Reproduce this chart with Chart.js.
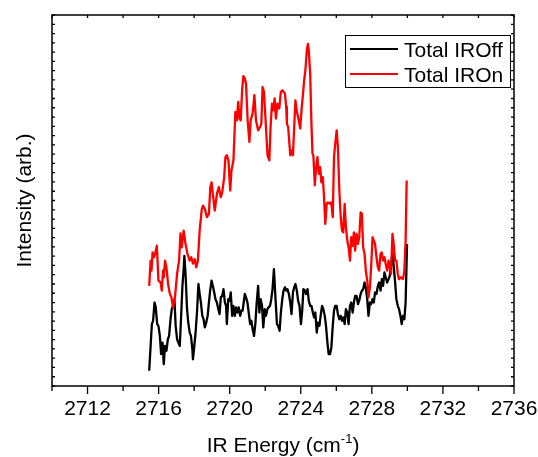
<!DOCTYPE html>
<html>
<head>
<meta charset="utf-8">
<script src="https://cdn.jsdelivr.net/npm/chart.js@4/dist/chart.umd.min.js"></script>
<style>
  html, body { margin: 0; padding: 0; background: #fff; }
  #wrap { width: 538px; height: 457px; position: relative; }
</style>
</head>
<body>
<div id="wrap"><canvas id="c" width="538" height="457"></canvas></div>
<script>
// IR-on spectrum: energy (cm^-1) and intensity (arb.)
const onEnergy = [2715.47,2715.55,2715.60,2715.66,2715.73,2715.80,2715.90,2715.99,2716.11,2716.18,
  2716.25,2716.29,2716.36,2716.44,2716.53,2716.63,2716.72,2716.81,2716.92,2717.04,
  2717.15,2717.23,2717.30,2717.41,2717.51,2717.62,2717.75,2717.84,2717.93,2718.03,
  2718.12,2718.21,2718.31,2718.42,2718.49,2718.60,2718.72,2718.83,2718.91,2718.98,
  2719.05,2719.16,2719.28,2719.39,2719.50,2719.58,2719.69,2719.76,2719.84,2719.93,
  2720.03,2720.10,2720.21,2720.29,2720.32,2720.40,2720.48,2720.55,2720.62,2720.70,
  2720.77,2720.85,2720.92,2721.01,2721.11,2721.18,2721.29,2721.39,2721.48,2721.60,
  2721.71,2721.78,2721.85,2721.93,2722.04,2722.13,2722.23,2722.30,2722.38,2722.45,
  2722.53,2722.60,2722.69,2722.79,2722.88,2722.97,2723.11,2723.18,2723.22,2723.29,
  2723.41,2723.48,2723.56,2723.63,2723.70,2723.78,2723.85,2723.97,2724.04,2724.12,
  2724.19,2724.26,2724.34,2724.40,2724.45,2724.53,2724.60,2724.66,2724.71,2724.79,
  2724.86,2724.94,2725.01,2725.09,2725.16,2725.24,2725.31,2725.38,2725.46,2725.53,
  2725.65,2725.72,2725.80,2725.87,2725.94,2726.02,2726.09,2726.17,2726.25,2726.32,
  2726.39,2726.47,2726.54,2726.62,2726.69,2726.77,2726.84,2726.92,2726.99,2727.06,
  2727.14,2727.22,2727.29,2727.37,2727.44,2727.51,2727.59,2727.66,2727.74,2727.81,
  2727.89,2727.96,2728.04,2728.11,2728.18,2728.26,2728.34,2728.41,2728.49,2728.56,
  2728.63,2728.71,2728.78,2728.86,2728.94,2729.01,2729.08,2729.16,2729.23,2729.31,
  2729.38,2729.46,2729.53,2729.62,2729.75,2729.83,2729.90,2729.96];
const onIntensity = [27.0,33.8,31.1,36.0,34.7,35.6,37.8,28.4,27.9,25.7,
  31.1,29.3,33.8,32.0,27.6,24.9,23.9,21.2,23.9,30.3,
  33.8,41.1,37.4,41.9,38.4,35.7,33.8,34.7,33.0,34.2,
  32.0,33.8,41.9,47.3,48.6,47.8,45.5,46.4,53.6,54.9,
  51.8,47.3,51.8,53.6,50.9,52.2,56.3,61.7,62.2,60.8,
  52.7,58.1,60.8,70.3,73.9,71.6,76.6,72.1,71.6,79.7,
  83.5,82.9,81.5,71.6,65.8,71.6,73.4,78.4,71.6,68.9,
  69.8,70.7,80.6,79.3,69.8,62.2,60.8,69.8,76.1,74.3,
  77.5,72.1,76.1,74.8,79.3,79.7,78.8,75.2,70.7,69.8,
  62.2,63.5,62.2,69.8,77.0,73.9,72.5,69.4,74.3,78.4,
  82.4,85.1,90.5,92.2,90.5,84.2,70.7,62.6,62.2,54.1,
  58.6,61.7,57.2,59.0,54.9,56.3,50.9,43.7,49.1,49.5,
  49.1,49.5,45.5,61.7,65.3,68.9,64.4,52.7,45.5,41.9,
  41.4,49.1,42.8,39.2,37.4,33.8,40.1,37.8,41.4,36.5,
  41.0,38.3,40.1,46.8,46.4,37.4,35.6,31.1,28.4,23.9,
  26.6,32.0,40.1,39.2,38.3,34.7,32.0,31.1,35.6,36.0,
  33.8,34.7,32.9,31.1,33.8,32.0,30.2,41.0,38.3,33.8,
  33.8,30.2,28.8,29.3,28.8,31.1,39.2,55.4];

// IR-off spectrum
const offEnergy = [2715.47,2715.55,2715.62,2715.69,2715.77,2715.84,2715.92,2715.99,2716.07,2716.14,
  2716.22,2716.29,2716.36,2716.44,2716.52,2716.59,2716.67,2716.74,2716.81,2716.89,
  2716.96,2717.04,2717.11,2717.19,2717.26,2717.34,2717.41,2717.45,2717.52,2717.60,
  2717.67,2717.75,2717.82,2717.90,2717.93,2718.01,2718.08,2718.16,2718.24,2718.31,
  2718.38,2718.46,2718.53,2718.60,2718.68,2718.76,2718.83,2718.91,2718.98,2719.05,
  2719.13,2719.20,2719.28,2719.36,2719.43,2719.50,2719.58,2719.65,2719.73,2719.80,
  2719.84,2719.92,2719.99,2720.06,2720.14,2720.21,2720.29,2720.36,2720.44,2720.51,
  2720.59,2720.66,2720.73,2720.85,2720.92,2721.00,2721.07,2721.15,2721.22,2721.29,
  2721.37,2721.45,2721.52,2721.60,2721.67,2721.74,2721.82,2721.89,2721.97,2722.04,
  2722.12,2722.19,2722.27,2722.34,2722.41,2722.49,2722.57,2722.66,2722.73,2722.81,
  2722.88,2722.96,2723.03,2723.11,2723.18,2723.25,2723.33,2723.41,2723.48,2723.56,
  2723.63,2723.70,2723.78,2723.85,2723.93,2724.01,2724.08,2724.15,2724.23,2724.30,
  2724.38,2724.45,2724.53,2724.60,2724.68,2724.75,2724.82,2724.90,2724.97,2725.05,
  2725.13,2725.20,2725.27,2725.35,2725.42,2725.50,2725.57,2725.65,2725.72,2725.80,
  2725.87,2725.94,2726.02,2726.09,2726.17,2726.25,2726.32,2726.39,2726.47,2726.54,
  2726.62,2726.69,2726.77,2726.84,2726.92,2726.99,2727.06,2727.14,2727.22,2727.29,
  2727.37,2727.44,2727.51,2727.59,2727.66,2727.74,2727.81,2727.89,2727.96,2728.04,
  2728.11,2728.18,2728.26,2728.34,2728.41,2728.49,2728.56,2728.63,2728.71,2728.78,
  2728.86,2728.94,2729.01,2729.08,2729.16,2729.23,2729.31,2729.38,2729.46,2729.53,
  2729.61,2729.68,2729.75,2729.83,2729.90,2729.98];
const offIntensity = [4.1,10.8,16.7,17.6,22.5,21.2,16.7,16.2,13.5,8.6,
  11.7,5.9,10.8,9.5,12.6,13.5,18.0,20.7,21.6,23.4,
  16.2,12.6,11.7,10.8,18.0,27.0,31.5,35.1,29.7,20.7,
  17.1,14.4,13.5,9.9,7.2,10.8,14.4,19.8,27.5,24.8,
  22.5,18.9,18.0,15.8,17.1,18.9,22.5,26.1,28.4,27.0,
  25.2,23.4,22.5,20.7,19.4,23.9,24.3,26.1,22.5,21.6,
  16.7,23.4,23.0,25.2,18.9,21.6,18.9,21.2,19.8,21.2,
  18.9,20.3,20.3,24.8,23.9,22.5,19.8,16.7,17.6,15.3,
  13.5,17.1,22.5,27.0,19.8,23.4,21.6,15.8,20.7,18.9,
  20.7,21.2,21.6,23.4,26.1,31.5,24.3,16.7,16.2,14.9,
  19.8,23.4,25.7,26.6,25.7,26.1,24.8,22.5,19.4,25.2,
  26.6,27.5,25.7,23.0,21.6,16.7,20.3,26.1,25.7,24.8,
  26.1,23.0,21.6,21.6,19.8,18.5,19.8,14.4,17.1,16.2,
  19.4,21.6,20.7,18.9,16.2,11.7,8.6,8.6,10.4,16.2,
  20.3,21.6,21.6,19.4,18.0,18.9,17.6,18.5,16.7,20.7,
  19.8,16.7,21.6,22.5,19.8,22.5,24.3,24.3,22.1,23.0,
  24.8,25.7,26.1,27.9,26.6,23.4,18.9,22.5,22.1,23.4,
  22.5,25.2,24.8,27.0,27.9,25.7,28.8,27.0,30.6,29.3,
  27.9,28.8,29.7,32.4,36.0,32.4,27.9,23.4,21.6,20.7,
  18.9,16.7,18.9,18.0,22.5,38.3];

// Axis ticks
const xTickLabels = [2712, 2716, 2720, 2724, 2728, 2732, 2736];
const xTickMarks = [2710, 2712, 2714, 2716, 2718, 2720, 2722, 2724, 2726, 2728, 2730, 2732, 2734, 2736];
const seriesNames = ['Total IROff', 'Total IROn'];
const seriesColors = ['#000000', '#ff0000'];

const FONT = 'Arial, "Liberation Sans", sans-serif';

const toPoints = (xs, ys) => xs.map((x, i) => ({ x: x, y: ys[i] }));

// Frame, ticks, labels, titles and legend drawn on top of the plot
const framePlugin = {
  id: 'frame',
  afterDraw(chart) {
    const { ctx, chartArea: a, scales: { x, y } } = chart;
    ctx.save();
    ctx.strokeStyle = '#000';
    ctx.fillStyle = '#000';

    // x ticks: outward on the bottom, inward on the top
    ctx.lineWidth = 1.3;
    xTickMarks.forEach(v => {
      const px = x.getPixelForValue(v);
      const major = xTickLabels.includes(v);
      ctx.beginPath();
      ctx.moveTo(px, a.bottom);
      ctx.lineTo(px, a.bottom + (major ? 8 : 5));
      ctx.moveTo(px, a.top);
      ctx.lineTo(px, a.top + 3);
      ctx.stroke();
    });

    // y ticks: inward on both sides
    for (let v = 0; v <= 100; v += 2.5) {
      const py = y.getPixelForValue(v);
      ctx.beginPath();
      ctx.moveTo(a.left, py);
      ctx.lineTo(a.left + 3, py);
      ctx.moveTo(a.right, py);
      ctx.lineTo(a.right - 3, py);
      ctx.stroke();
    }

    // frame
    ctx.lineWidth = 1.5;
    ctx.strokeRect(a.left, a.top, a.right - a.left, a.bottom - a.top);

    // x tick labels
    ctx.font = '21px ' + FONT;
    ctx.textAlign = 'center';
    ctx.textBaseline = 'alphabetic';
    xTickLabels.forEach(v => {
      ctx.fillText(String(v), x.getPixelForValue(v), 415);
    });

    // x title with superscript
    const main1 = 'IR Energy (cm', sup = '-1', main2 = ')';
    ctx.font = '21px ' + FONT;
    const w1 = ctx.measureText(main1).width;
    const w3 = ctx.measureText(main2).width;
    ctx.font = '13px ' + FONT;
    const w2 = ctx.measureText(sup).width;
    const total = w1 + w2 + w3;
    let sx = (a.left + a.right) / 2 - total / 2;
    const base = 452;
    ctx.textAlign = 'left';
    ctx.font = '21px ' + FONT;
    ctx.fillText(main1, sx, base);
    ctx.font = '13px ' + FONT;
    ctx.fillText(sup, sx + w1, base - 9);
    ctx.font = '21px ' + FONT;
    ctx.fillText(main2, sx + w1 + w2, base);

    // y title
    ctx.save();
    ctx.translate(31, (a.top + a.bottom) / 2);
    ctx.rotate(-Math.PI / 2);
    ctx.textAlign = 'center';
    ctx.textBaseline = 'alphabetic';
    ctx.font = '21px ' + FONT;
    ctx.fillText('Intensity (arb.)', 0, 0);
    ctx.restore();

    // legend
    ctx.lineWidth = 1;
    ctx.strokeRect(345.5, 35.5, 165, 52);
    ctx.font = '21px ' + FONT;
    ctx.textAlign = 'left';
    seriesNames.forEach((name, i) => {
      const ly = 49 + i * 25;
      ctx.strokeStyle = seriesColors[i];
      ctx.lineWidth = 2;
      ctx.beginPath();
      ctx.moveTo(350, ly);
      ctx.lineTo(398, ly);
      ctx.stroke();
      ctx.fillStyle = '#000';
      ctx.fillText(name, 404, ly + 8);
    });

    ctx.restore();
  }
};

new Chart(document.getElementById('c').getContext('2d'), {
  type: 'scatter',
  data: {
    datasets: [
      {
        label: seriesNames[1],
        data: toPoints(onEnergy, onIntensity),
        borderColor: seriesColors[1],
        backgroundColor: seriesColors[1],
        borderWidth: 2.3,
        borderJoinStyle: 'round',
        showLine: true,
        pointRadius: 0,
        tension: 0,
        order: 0
      },
      {
        label: seriesNames[0],
        data: toPoints(offEnergy, offIntensity),
        borderColor: seriesColors[0],
        backgroundColor: seriesColors[0],
        borderWidth: 2.3,
        borderJoinStyle: 'round',
        showLine: true,
        pointRadius: 0,
        tension: 0,
        order: 1
      }
    ]
  },
  options: {
    responsive: false,
    animation: false,
    devicePixelRatio: 1,
    layout: { padding: { left: 52, right: 24, top: 15, bottom: 71 } },
    plugins: { legend: { display: false }, tooltip: { enabled: false } },
    scales: {
      x: { type: 'linear', min: 2710, max: 2736, display: false },
      y: { type: 'linear', min: 0, max: 100, display: false }
    }
  },
  plugins: [framePlugin]
});
</script>
</body>
</html>
